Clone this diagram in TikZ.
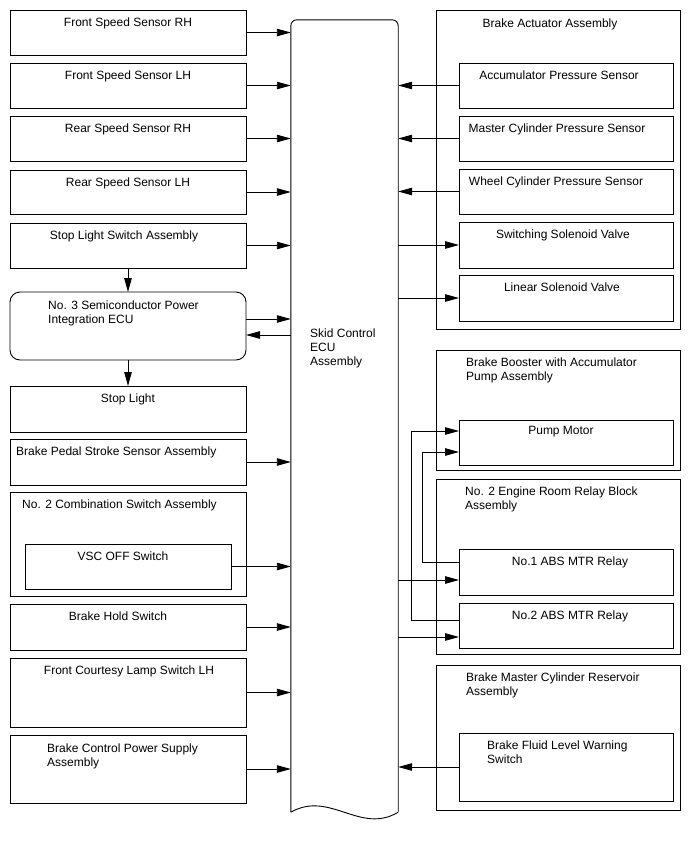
\documentclass[tikz,border=0pt]{standalone}
\usepackage{fontspec}
\setmainfont{Liberation Sans}
\usetikzlibrary{arrows.meta}
\newcommand\bx[6][]{\node[boxs,#1,minimum width={#5-#3},minimum height={#6-#4}] (#2) at ({(#3+#5)/2},{(#4+#6)/2}) {};}
\begin{document}
\begin{tikzpicture}[x=1pt,y=-1pt,
  boxs/.style={draw, line width=0.9pt, rectangle, inner sep=0pt, outer sep=0pt},
  txt/.style={font=\fontsize{12}{14}\selectfont, inner sep=0pt, anchor=base},
  txtw/.style={font=\fontsize{12}{14}\selectfont, inner sep=0pt, anchor=base west},
  txtl/.style={font=\fontsize{12}{14}\selectfont, inner sep=0pt, anchor=north west, align=left},
  arr/.style={line width=0.9pt, -{Triangle[length=14pt,width=7.5pt]}},
  ln/.style={line width=0.9pt}]
\useasboundingbox (0,0) rectangle (688,852);

% ECU
\node[inner sep=0pt, minimum width=107, minimum height=792] (ecu) at (344.5,416) {};
\draw[ln, rounded corners=6] (ecu.south west) -- (ecu.north west) -- (ecu.north east) -- (ecu.south east);
\draw[ln] (ecu.south east) .. controls (360,835) and (330,790) .. (ecu.south west);
\node[txtl] (ecut) at (310,328.4) {Skid Control\\ECU\\Assembly};

% left column
\bx{fsrh}{10}{10}{246}{55}
\bx{fslh}{10}{63}{246}{108}
\bx{rsrh}{10}{116}{246}{161}
\bx{rslh}{10}{170}{246}{214}
\bx{sls}{10}{223}{246}{268}
\bx[rounded corners=10]{semi}{10}{292}{246}{360}
\bx{sl}{10}{386}{246}{432}
\bx{bps}{10}{439}{246}{485}
\bx{cs}{10}{492}{246}{596}
\bx{vsc}{25}{544}{231}{589}
\bx{bhs}{10}{604}{246}{650}
\bx{fcl}{10}{658}{246}{727}
\bx{bcp}{10}{735}{246}{803}

\node[txt] (tfsrh) at (128,26) {Front Speed Sensor RH};
\node[txt] (tfslh) at (128,79) {Front Speed Sensor LH};
\node[txt] (trsrh) at (128,132) {Rear Speed Sensor RH};
\node[txt] (trslh) at (128,186) {Rear Speed Sensor LH};
\node[txt] (tsls) at (124,239) {Stop Light Switch Assembly};
\node[txtl] (tsemi) at (48,300.4) {No. 3 Semiconductor Power\\Integration ECU};
\node[txt] (tsl) at (128,402) {Stop Light};
\node[txtw] (tbps) at (16,455) {Brake Pedal Stroke Sensor Assembly};
\node[txtw] (tcs) at (22,508) {No. 2 Combination Switch Assembly};
\node[txt] (tvsc) at (123,560) {VSC OFF Switch};
\node[txt] (tbhs) at (118,620) {Brake Hold Switch};
\node[txt] (tfcl) at (129,674) {Front Courtesy Lamp Switch LH};
\node[txtl] (tbcp) at (47,743.4) {Brake Control Power Supply\\Assembly};

% right column
\bx{ba}{436}{10}{680}{329}
\bx{aps}{459}{63}{673}{108}
\bx{mcps}{459}{116}{673}{161}
\bx{wcps}{459}{169}{673}{214}
\bx{ssv}{459}{222}{673}{268}
\bx{lsv}{459}{275}{673}{321}
\bx{bb}{436}{350}{680}{470}
\bx{pm}{459}{420}{673}{465}
\bx{rb}{436}{479}{680}{654}
\bx{ra}{459}{549}{673}{595}
\bx{rc}{459}{603}{673}{648}
\bx{bmc}{436}{665}{680}{810}
\bx{bfl}{459}{733}{673}{801}

\node[txt] (tba) at (550,27) {Brake Actuator Assembly};
\node[txt] (taps) at (559,79) {Accumulator Pressure Sensor};
\node[txt] (tmcps) at (557,132) {Master Cylinder Pressure Sensor};
\node[txt] (twcps) at (556,185) {Wheel Cylinder Pressure Sensor};
\node[txt] (tssv) at (563,238) {Switching Solenoid Valve};
\node[txt] (tlsv) at (562,291) {Linear Solenoid Valve};
\node[txtl] (tbb) at (466,357.4) {Brake Booster with Accumulator\\Pump Assembly};
\node[txt] (tpm) at (561,434) {Pump Motor};
\node[txtl] (trb) at (465,486.4) {No. 2 Engine Room Relay Block\\Assembly};
\node[txt] (tra) at (570,565) {No.1 ABS MTR Relay};
\node[txt] (trc) at (570,619) {No.2 ABS MTR Relay};
\node[txtl] (tbmc) at (466,672.9) {Brake Master Cylinder Reservoir\\Assembly};
\node[txtl] (tbfl) at (487,740.4) {Brake Fluid Level Warning\\Switch};

% connectors left
\foreach \n in {fsrh,fslh,rsrh,rslh,sls,bps,vsc,bhs,fcl,bcp}
  \draw[arr] (\n.east) -- (\n.east -| ecu.west);
\draw[arr] (semi.east |- 0,319) -- (ecu.west |- 0,319);
\draw[arr] (ecu.west |- 0,335) -- (semi.east |- 0,335);
\draw[arr] (sls.south) -- (semi.north);
\draw[arr] (semi.south) -- (sl.north);

% connectors right
\foreach \n in {aps,mcps,wcps,bfl}
  \draw[arr] (\n.west) -- (\n.west -| ecu.east);
\foreach \n in {ssv,lsv}
  \draw[arr] (\n.west -| ecu.east) -- (\n.west);
\draw[arr] (ecu.east |- 0,580) -- (ra.west |- 0,580);
\draw[arr] (ecu.east |- 0,637) -- (rc.west |- 0,637);
\draw[arr] (ra.west |- 0,562) -- (422,562) -- (422,452) -- (pm.west |- 0,452);
\draw[arr] (rc.west |- 0,620) -- (411,620) -- (411,431) -- (pm.west |- 0,431);
\end{tikzpicture}
\end{document}
